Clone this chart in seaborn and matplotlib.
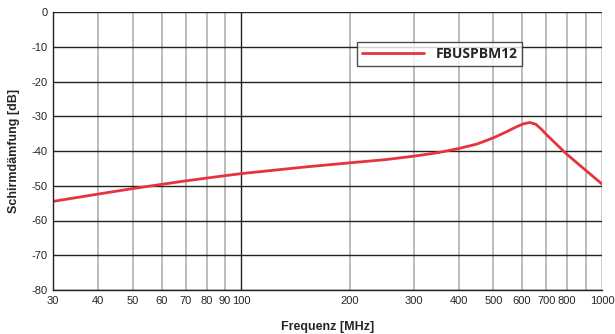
import matplotlib
matplotlib.use("Agg")
import matplotlib.pyplot as plt
import numpy as np
import seaborn as sns
import pandas as pd

# values
freq_mhz = [30, 40, 50, 60, 70, 80, 90, 100, 150, 200, 250, 300, 350, 400, 450,
            500, 545, 580, 605, 630, 655, 680, 700, 750, 800, 900, 1000]
daempfung_db = [-54.5, -52.4, -50.8, -49.6, -48.6, -47.8, -47.1, -46.5, -44.6, -43.4,
                -42.5, -41.5, -40.5, -39.3, -38.0, -36.2, -34.4, -33.0, -32.2, -31.8,
                -32.3, -33.8, -35.2, -38.2, -41.0, -45.5, -49.5]
series_name = "FBUSPBM12"
x_ticks = [30, 40, 50, 60, 70, 80, 90, 100, 200, 300, 400, 500, 600, 700, 800, 900, 1000]
x_ticklabels = ["30", "40", "50", "60", "70", "80", "90", "100", "200", "300", "400",
                "500", "600", "700", "800", "", "1000"]
y_ticks = [0, -10, -20, -30, -40, -50, -60, -70, -80]

df = pd.DataFrame({"f": freq_mhz, "a": daempfung_db, "s": series_name})

sns.set_style("white")
plt.rcParams['font.family'] = ['Liberation Sans Narrow', 'Liberation Sans', 'DejaVu Sans']

fig = plt.figure(figsize=(6.15, 3.34), dpi=100)
ax = fig.add_axes([53/615, 1-290/334, (602-53)/615, (290-12)/334])

ax.set_xscale("log")
ax.set_xlim(30, 1000)
ax.set_ylim(-80, 0)

for x in x_ticks:
    dark = x in (100, 1000)
    ax.axvline(x, color="#222222" if dark else "#b0b0b0", lw=1.0 if dark else 1.2, zorder=0)
for y in y_ticks:
    ax.axhline(y, color="#222222", lw=1.0, zorder=0)

sns.lineplot(data=df, x="f", y="a", hue="s", palette=["#e8323c"], lw=2, ax=ax)

ax.set_xticks(x_ticks)
ax.set_xticklabels(x_ticklabels)
ax.minorticks_off()
ax.set_yticks(y_ticks)
ax.set_yticklabels([str(v) for v in y_ticks])
ax.tick_params(axis="both", labelsize=8, length=3, width=1, color="#222222", pad=1)

for side in ["top", "right"]:
    ax.spines[side].set_visible(False)
for side in ["left", "bottom"]:
    ax.spines[side].set_color("#222222")
    ax.spines[side].set_linewidth(1.0)

ax.set_xlabel("Frequenz [MHz]", fontsize=9, fontweight="bold", labelpad=11)
ax.set_ylabel("Schirmdämfung [dB]", fontsize=9, fontweight="bold", labelpad=8)

leg = ax.legend(loc="upper left", bbox_to_anchor=((350-53)/549, 1-(35-12)/278),
                frameon=True, fancybox=False, handlelength=4.5, borderpad=0.35,
                prop={"family": ["Open Sans", "DejaVu Sans"], "weight": "bold", "size": 10})
leg.get_frame().set_edgecolor("#222222")
leg.get_frame().set_linewidth(1.0)

fig.savefig("out.png", dpi=100)
